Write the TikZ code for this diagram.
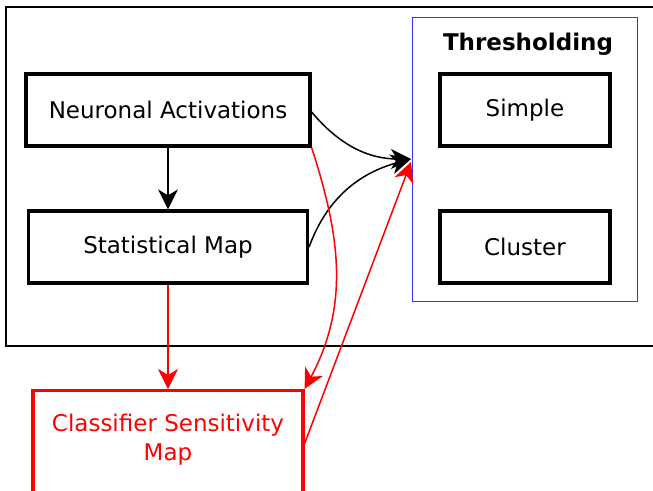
\documentclass[tikz,border=0pt]{standalone}
\usepackage{fontspec}
\setmainfont{DejaVu Sans}
\usetikzlibrary{arrows.meta}
\begin{document}
\begin{tikzpicture}[x=1pt,y=-1pt,
  box/.style={draw, line width=3.2pt, minimum width=#1, minimum height=72pt, inner sep=0pt, font=\fontsize{23}{27}\selectfont, align=center},
  box/.default=170pt,
  tip/.style={-{Stealth[length=20pt,width=20pt,inset=6pt]}},
  blk/.style={tip, draw=black, line width=1.5pt},
  redc/.style={tip, draw=red, line width=1.5pt}]
\clip (0,0) rectangle (653,490);
\node[draw, line width=1.6pt, minimum width=660pt, minimum height=339pt, anchor=north west, inner sep=0pt] (outer) at (5,6) {};
\node[draw=blue!80, line width=0.8pt, minimum width=225pt, minimum height=284pt, anchor=north west, inner sep=0pt] (thr) at (412,17) {};
\node[font=\bfseries\fontsize{23}{27}\selectfont] (thrlabel) at (528,44) {Thresholding};
\node[box=284pt] (na) at (168,110) {Neuronal Activations};
\node[box=279pt] (sm) at (168,247) {Statistical Map};
\node[box=170pt] (simple) at (525,110) {Simple};
\node[box=170pt] (cluster) at (525,247) {Cluster};
\node[box=270pt, draw=red, minimum height=110pt, anchor=north] (csm) at (168,389) {};
\node[text=red, font=\fontsize{23}{29}\selectfont, align=center] (csmlabel) at (168,440) {Classif{}ier Sensitivity\\Map};
\coordinate (t1) at (411,159);
\coordinate (t2) at (411,162);
\draw[blk] (na.east) ++(0,2) to[out=-50,in=180] (t1);
\draw[blk] (sm.east) to[out=70,in=195] (t1);
\draw[blk] (na.south) -- (sm.north);
\draw[redc] (sm.south) -- (csm.north);
\draw[redc] (na.south east) to[out=-72,in=62] (csm.north east);
\draw[redc] (csm.east) ++(0,-2) -- (t2);
\end{tikzpicture}
\end{document}
